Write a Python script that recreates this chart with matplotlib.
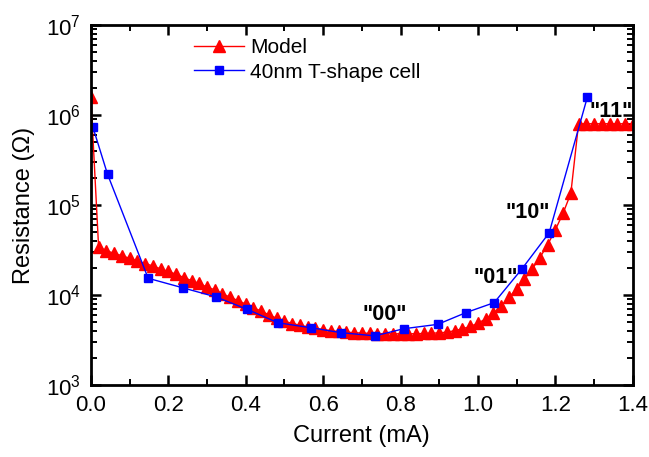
import matplotlib
matplotlib.use("Agg")
import matplotlib.pyplot as plt
from matplotlib.ticker import MultipleLocator, LogLocator, NullFormatter

# Model curve (0.02 mA steps)
model_current = [
    0.00, 0.02, 0.04, 0.06, 0.08, 0.10, 0.12, 0.14, 0.16, 0.18,
    0.20, 0.22, 0.24, 0.26, 0.28, 0.30, 0.32, 0.34, 0.36, 0.38,
    0.40, 0.42, 0.44, 0.46, 0.48, 0.50, 0.52, 0.54, 0.56, 0.58,
    0.60, 0.62, 0.64, 0.66, 0.68, 0.70, 0.72, 0.74, 0.76, 0.78,
    0.80, 0.82, 0.84, 0.86, 0.88, 0.90, 0.92, 0.94, 0.96, 0.98,
    1.00, 1.02, 1.04, 1.06, 1.08, 1.10, 1.12, 1.14, 1.16, 1.18,
    1.20, 1.22, 1.24, 1.26, 1.28, 1.30, 1.32, 1.34, 1.36, 1.38,
    1.40,
]
model_res = [
    1.6e6, 3.4e4, 3.1e4, 2.9e4, 2.73e4, 2.55e4, 2.39e4, 2.23e4, 2.1e4, 1.95e4,
    1.82e4, 1.7e4, 1.56e4, 1.44e4, 1.34e4, 1.22e4, 1.14e4, 1.03e4, 9.4e3, 8.65e3,
    7.9e3, 7.2e3, 6.6e3, 6.0e3, 5.5e3, 5.1e3, 4.8e3, 4.6e3, 4.4e3, 4.25e3,
    4.12e3, 4.0e3, 3.92e3, 3.85e3, 3.8e3, 3.76e3, 3.73e3, 3.71e3, 3.7e3, 3.69e3,
    3.69e3, 3.69e3, 3.7e3, 3.72e3, 3.75e3, 3.78e3, 3.85e3, 4.0e3, 4.2e3, 4.45e3,
    4.85e3, 5.4e3, 6.25e3, 7.5e3, 9.4e3, 1.16e4, 1.5e4, 1.93e4, 2.6e4, 3.6e4,
    5.3e4, 8.1e4, 1.35e5, 8.0e5, 8.0e5, 8.0e5, 8.0e5, 8.0e5, 8.0e5, 8.0e5,
    8.0e5,
]

# measured 40nm T-shape cell
cell_current = [0.005, 0.043, 0.148, 0.237, 0.323, 0.404, 0.483, 0.570, 0.646,
                0.734, 0.808, 0.896, 0.969, 1.042, 1.113, 1.184, 1.283]
cell_res = [7.4e5, 2.2e5, 1.53e4, 1.2e4, 9.5e3, 6.9e3, 4.9e3, 4.3e3, 3.8e3,
            3.5e3, 4.2e3, 4.7e3, 6.35e3, 8.2e3, 1.93e4, 4.9e4, 1.6e6]

state_labels = ['"00"', '"01"', '"10"', '"11"']
state_x = [0.76, 1.045, 1.128, 1.343]
state_y = [6.0e3, 1.55e4, 8.3e4, 1.1e6]

plt.rcParams.update({
    "font.family": ["Liberation Sans", "DejaVu Sans"],
    "font.size": 14,
    "axes.linewidth": 2.0,
    "xtick.direction": "in",
    "ytick.direction": "in",
    "xtick.top": True,
    "ytick.right": True,
})

fig = plt.figure(figsize=(6.49, 4.57), dpi=100)
ax = fig.add_axes([0.140, 0.158, 0.835, 0.787])

ax.plot(model_current, model_res, color="#ff0000", lw=1.0, marker="^",
        ms=8, label="Model")
ax.plot(cell_current, cell_res, color="#0000ff", lw=1.0, marker="s",
        ms=6, label="40nm T-shape cell")

for t, x, y in zip(state_labels, state_x, state_y):
    ax.text(x, y, t, fontsize=15.5, fontweight="bold", ha="center", va="center")

ax.set_yscale("log")
ax.set_xlim(0, 1.4)
ax.set_ylim(1e3, 1e7)
ax.xaxis.set_major_locator(MultipleLocator(0.2))
ax.xaxis.set_minor_locator(MultipleLocator(0.1))
ax.yaxis.set_major_locator(LogLocator(base=10))
ax.yaxis.set_minor_locator(LogLocator(base=10, subs=range(2, 10)))
ax.yaxis.set_minor_formatter(NullFormatter())
ax.tick_params(which="major", length=7, width=1.8, labelsize=16, pad=7)
ax.tick_params(which="minor", length=4, width=1.4)
ax.set_xticks([0, 0.2, 0.4, 0.6, 0.8, 1.0, 1.2, 1.4])
ax.set_xticklabels(["0.0", "0.2", "0.4", "0.6", "0.8", "1.0", "1.2", "1.4"])

ax.set_xlabel("Current (mA)", fontsize=17, labelpad=7)
ax.set_ylabel("Resistance (\u03a9)", fontsize=17, labelpad=8)

ax.legend(loc="upper left", bbox_to_anchor=(0.155, 1.015), frameon=False,
          fontsize=15, handlelength=2.4, handletextpad=0.3, labelspacing=0.25)

fig.savefig("out.png", dpi=100)
